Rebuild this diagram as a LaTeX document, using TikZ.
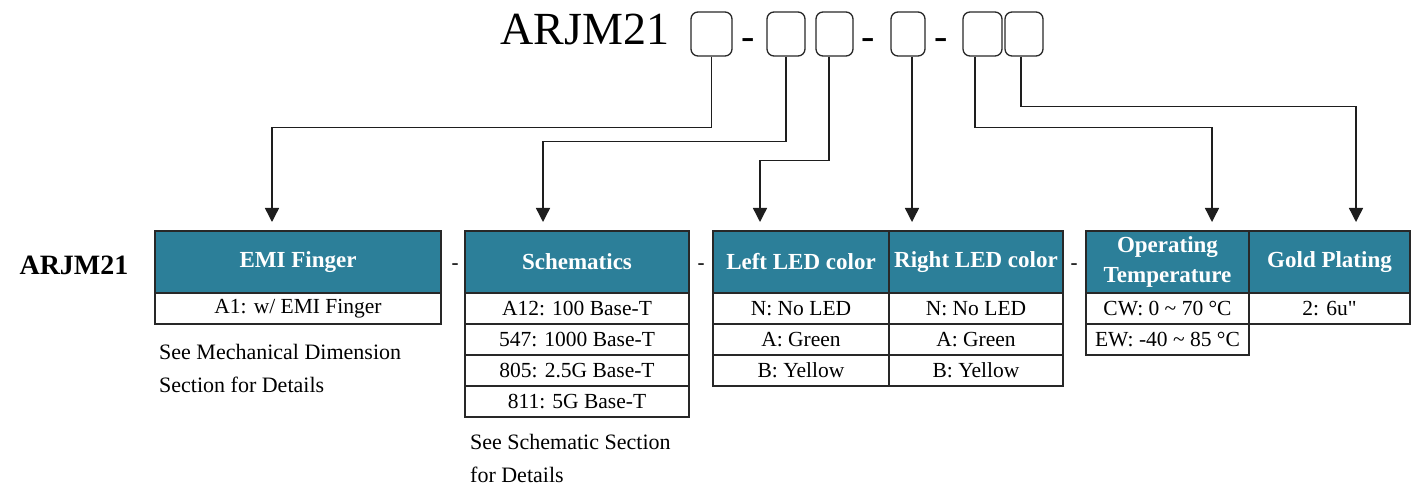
\documentclass[tikz,border=0pt]{standalone}
\usepackage{fontspec}
\setmainfont{Liberation Serif}
\newfontfamily\plainserif{Liberation Serif}[Ligatures=TeXOff]
\usetikzlibrary{arrows.meta}
\definecolor{hdrteal}{RGB}{44,127,153}
\definecolor{edge}{RGB}{40,40,40}
\definecolor{linec}{RGB}{30,30,30}
\tikzset{
  hdr/.style={draw=edge, fill=hdrteal, text=white, line width=1.5pt, inner sep=0pt,
    minimum height=62pt, align=center, font=\bfseries\fontsize{23}{30}\selectfont},
  cell/.style={draw=edge, fill=white, line width=1.5pt, inner sep=0pt,
    minimum height=31pt, font=\fontsize{21.5}{23}\selectfont},
  slot/.style={draw=edge, rounded corners=7pt, line width=1.3pt, minimum height=44pt, inner sep=0pt},
  sep/.style={inner sep=0pt, font=\fontsize{21}{22}\selectfont},
  topsep/.style={inner sep=0pt, font=\fontsize{40}{40}\selectfont},
  note/.style={inner sep=0pt, align=left, anchor=north west, font=\fontsize{22}{33}\selectfont},
  arr/.style={draw=linec, line width=1.4pt, -{Triangle[length=14pt,width=14pt]}}
}
\begin{document}
\begin{tikzpicture}[x=1pt,y=-1pt]
\useasboundingbox (0,0) rectangle (1416,489);
% top code
\node[inner sep=0pt, anchor=base, font=\fontsize{46}{50}\selectfont] (title) at (585,45) {ARJM21};
\node[slot, minimum width=41pt] (b1) at (711.5,34) {};
\node[topsep] (d1) at (748,44) {-};
\node[slot, minimum width=38pt] (b2) at (786,34) {};
\node[slot, minimum width=37pt] (b3) at (834.5,34) {};
\node[topsep] (d2) at (868,44) {-};
\node[slot, minimum width=34pt] (b4) at (908,34) {};
\node[topsep] (d3) at (941,44) {-};
\node[slot, minimum width=39pt] (b5) at (982.5,34) {};
\node[slot, minimum width=38pt] (b6) at (1024,34) {};
% arrow targets
\coordinate (t1) at (272,222);
\coordinate (t2) at (543,222);
\coordinate (t3) at (760,222);
\coordinate (t4) at (912,222);
\coordinate (t5) at (1212,222);
\coordinate (t6) at (1356,222);
% left label
\node[inner sep=0pt, font=\bfseries\fontsize{28}{30}\selectfont] (lbl) at (74,265) {ARJM21};
% table 1
\node[hdr, minimum width=286pt] (h1) at (298,262) {EMI Finger};
\node[cell, minimum width=286pt] (r11) at (298,308.5) {A1: w/ EMI Finger};
\node[note] (n1) at (159,344) {See Mechanical Dimension\\Section for Details};
\node[sep] (s1) at (455,267) {-};
% table 2
\node[hdr, minimum width=224pt] (h2) at (577,262) {Schematics};
\node[cell, minimum width=224pt] (r21) at (577,308.5) {A12: 100 Base-T};
\node[cell, minimum width=224pt] (r22) at (577,339.5) {547: 1000 Base-T};
\node[cell, minimum width=224pt] (r23) at (577,370.5) {805: 2.5G Base-T};
\node[cell, minimum width=224pt] (r24) at (577,401.5) {811: 5G Base-T};
\node[note] (n2) at (470,434) {See Schematic Section\\for Details};
\node[sep] (s2) at (701,267) {-};
% table 3
\node[hdr, minimum width=176pt] (h3a) at (801,262) {Left LED color};
\node[hdr, minimum width=174pt] (h3b) at (976,262) {Right LED color};
\node[cell, minimum width=176pt] (r31a) at (801,308.5) {N: No LED};
\node[cell, minimum width=176pt] (r32a) at (801,339.5) {A: Green};
\node[cell, minimum width=176pt] (r33a) at (801,370.5) {B: Yellow};
\node[cell, minimum width=174pt] (r31b) at (976,308.5) {N: No LED};
\node[cell, minimum width=174pt] (r32b) at (976,339.5) {A: Green};
\node[cell, minimum width=174pt] (r33b) at (976,370.5) {B: Yellow};
\node[sep] (s3) at (1074,267) {-};
% table 4
\node[hdr, minimum width=163pt] (h4a) at (1167.5,262) {Operating\\Temperature};
\node[hdr, minimum width=161pt] (h4b) at (1329.5,262) {Gold Plating};
\node[cell, minimum width=163pt] (r41a) at (1167.5,308.5) {CW: 0 \textasciitilde{} 70 °C};
\node[cell, minimum width=163pt] (r42a) at (1167.5,339.5) {EW: -40 \textasciitilde{} 85 °C};
\node[cell, minimum width=161pt] (r41b) at (1329.5,308.5) {\plainserif 2: 6u"};
% connectors
\draw[arr] (b1.south) -- ++(0,71) -| (t1);
\draw[arr] (b2.south) -- ++(0,85) -| (t2);
\draw[arr] ([xshift=-5.5pt]b3.south) -- ++(0,104) -| (t3);
\draw[arr] ([xshift=4pt]b4.south) -- (t4);
\draw[arr] ([xshift=-7.5pt]b5.south) -- ++(0,71) -| (t5);
\draw[arr] ([xshift=-3pt]b6.south) -- ++(0,50) -| (t6);
\end{tikzpicture}
\end{document}
